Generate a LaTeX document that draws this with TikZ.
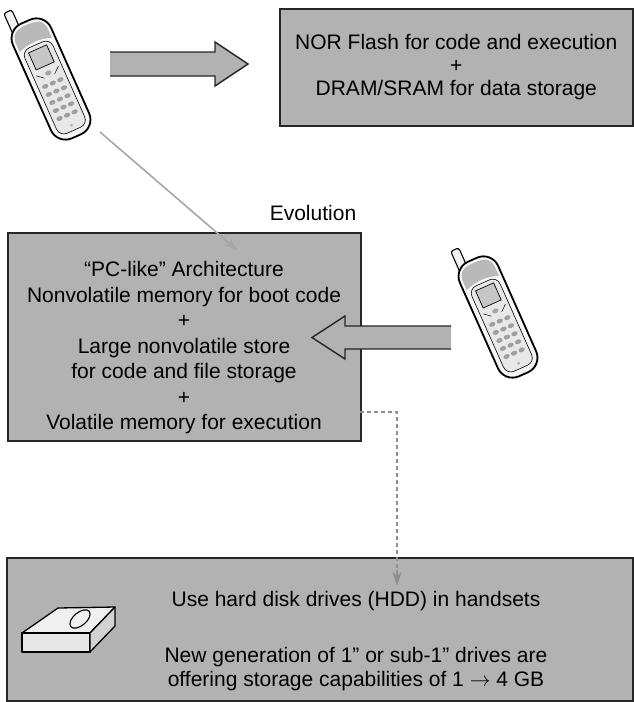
\documentclass[tikz,border=0pt]{standalone}
\usepackage{fontspec}
\setmainfont{Liberation Sans}
\usetikzlibrary{arrows.meta}

\definecolor{boxgray}{gray}{0.70}
\definecolor{dashgray}{gray}{0.45}

\tikzset{
  membox/.style={draw=black!85, line width=1.6pt, fill=boxgray, inner sep=0pt, align=center},
  blockarrow/.style={fill=boxgray, draw=black!85, line width=1.4pt, line join=miter},
  evoline/.style={draw=gray!70, line width=1.6pt, -{Stealth[length=13pt,width=9pt]}},
  hddline/.style={draw=dashgray!80, line width=2pt, dash pattern=on 4pt off 3pt},
  hddtip/.style={draw=dashgray!80, line width=2pt, solid, -{Stealth[length=14pt,width=9pt,fill=dashgray]}},
  % handset, drawn upright, top at negative y
  phone/.pic={
    \draw[line width=1.1pt, fill=gray!10, rounded corners=2.5] (-15,-46) rectangle (-7,-72);
    \draw[line width=1.8pt, fill=gray!8, rounded corners=16] (-19,-57) rectangle (19,57);
    \fill[gray!55] (-16,-42) .. controls (-16,-53) and (-8,-54) .. (0,-54)
      .. controls (8,-54) and (16,-53) .. (16,-42) -- (16,-34)
      .. controls (5,-38) and (-5,-38) .. (-16,-34) -- cycle;
    \draw[line width=0.6pt, fill=gray!18, rounded corners=8] (-14,-34) rectangle (14,51);
    \draw[line width=0.7pt, fill=gray!45] (-9,-30) rectangle (9,-13);
    \fill[gray!70] (0,-6) ellipse (3 and 2.2);
    \draw[line width=0.5pt] (-11,-8) -- (-5,-3) (11,-8) -- (5,-3);
    \foreach \r in {0,...,4}
      \foreach \c in {-7.5,0,7.5}
        \fill[gray!75] (\c,4+8*\r) ellipse (3 and 2.1);
    \fill[gray!60] (0,46) circle (1.5);
  }
}

\begin{document}
\begin{tikzpicture}[x=1pt, y=-1pt, font=\fontsize{21}{23}\selectfont]
  \useasboundingbox (0,0) rectangle (633,702);

  % today: code in NOR, data in RAM
  \pic[rotate=24, scale=1.1] at (51,79) {phone};
  \node[membox, minimum width=353pt, minimum height=117pt, anchor=north west] (nor) at (279,8)
    {NOR Flash for code and execution\\+\\DRAM/SRAM for data storage};
  \draw[blockarrow, draw=none] (110,52) rectangle (215,76);
  \draw[blockarrow] (110,52) -- (215,52) -- (215,42) -- (248,64) -- (215,86) -- (215,76) -- (110,76);

  % evolution towards a PC-like handset
  \coordinate (ph1) at (100,132);
  \coordinate (evotip) at (237,250);
  \node (evo) at (313,213) {Evolution};
  \node[membox, minimum width=353pt, minimum height=208pt, anchor=north west] (pc) at (7,232) {};
  \node[align=center, font=\fontsize{21}{25.5}\selectfont] (pctxt) at (184,348)
    {``PC-like'' Architecture\\Nonvolatile memory for boot code\\+\\Large nonvolatile store\\
     for code and file storage\\+\\Volatile memory for execution};
  \draw[evoline] (ph1) -- (evotip);

  \pic[rotate=24, scale=1.1] at (498,317) {phone};
  \draw[blockarrow, draw=none] (345,326) rectangle (451,349);
  \draw[blockarrow] (451,326) -- (345,326) -- (345,316) -- (312,337.5) -- (345,359) -- (345,349) -- (451,349);

  % hard disk option
  \node[membox, minimum width=626pt, minimum height=143pt, anchor=north west] (hdd) at (6,557) {};
  \node[align=center, font=\fontsize{21}{24}\selectfont] (hddtxt) at (356,641)
    {Use hard disk drives (HDD) in handsets\\[32pt]
     New generation of 1" or sub-1" drives are\\
     offering storage capabilities of 1 $\rightarrow$ 4 GB};
  \coordinate (d0) at (360,412);
  \coordinate (d1) at (397,570);
  \coordinate (d2) at (397,586);
  \draw[hddline] (d0) -| (d1);
  \draw[hddtip] (d1) -- (d2);

  % disk drive
  \draw[line width=1.3pt, fill=gray!12, line join=round] (22,633) -- (58,608) -- (115,607) -- (90,633) -- cycle;
  \draw[line width=1.3pt, fill=gray!18, line join=round] (22,633) rectangle (90,652);
  \draw[line width=1.3pt, fill=gray!35, line join=round] (90,633) -- (115,607) -- (115,626) -- (90,652) -- cycle;
  \draw[line width=1.1pt] (80,619) ellipse [x radius=12, y radius=6.5, rotate=40];
\end{tikzpicture}
\end{document}
